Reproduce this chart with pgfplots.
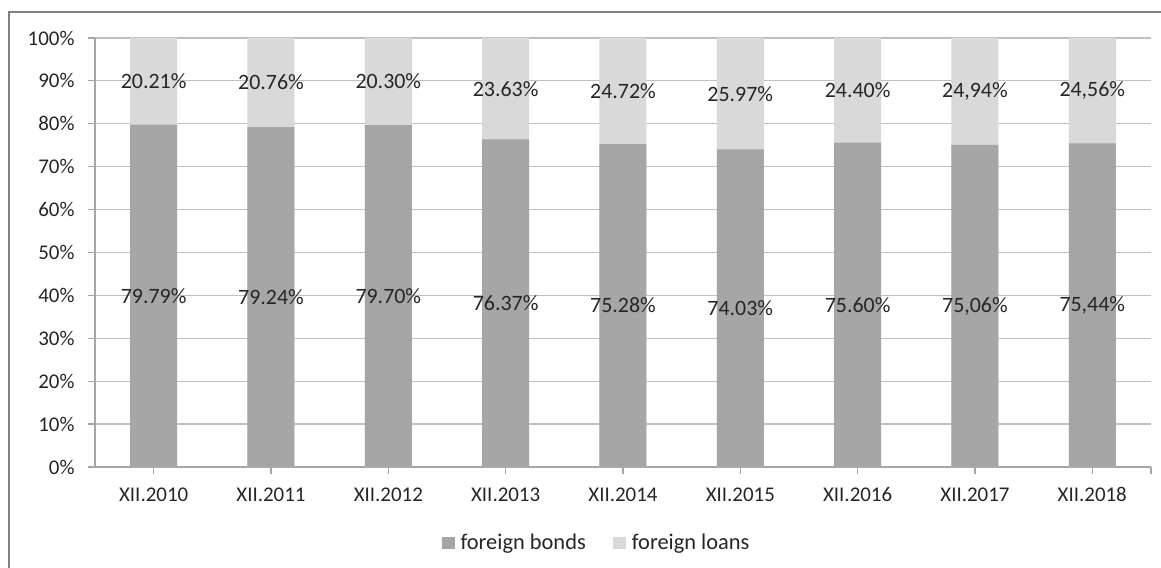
\documentclass[border=0pt]{standalone}
\usepackage{pgfplots}
\pgfplotsset{compat=1.18}
\usepackage{pgfplotstable}
\usepackage{fontspec}
\setmainfont{Carlito}
\definecolor{bonds}{HTML}{A6A6A6}
\definecolor{loans}{HTML}{D9D9D9}
\definecolor{gridc}{HTML}{C0C0C0}
\definecolor{axc}{HTML}{A6A6A6}
\definecolor{framec}{HTML}{808080}
\definecolor{txt}{HTML}{262626}

\pgfplotstableread{
x bonds loans bl ll
0 79.79 20.21 79.79 20.21
1 79.24 20.76 79.24 20.76
2 79.70 20.30 79.70 20.30
3 76.37 23.63 76.37 23.63
4 75.28 24.72 75.28 24.72
5 74.03 25.97 74.03 25.97
6 75.60 24.40 75.60 24.40
7 75.06 24.94 75,06 24,94
8 75.44 24.56 75,44 24,56
}\data

\begin{document}
\begin{tikzpicture}
\useasboundingbox (0,0) rectangle (1161bp,568bp);
\fill[white] (0,0) rectangle (1161bp,568bp);
\draw[framec, line width=1.5bp] (9bp,-10bp) -- (9bp,556bp) -- (1175bp,556bp);
\begin{axis}[
  at={(95bp,101bp)}, anchor=south west,
  scale only axis, width=1056bp, height=429bp,
  xmin=-0.5, xmax=8.5, ymin=0, ymax=100,
  xtick={0,...,8},
  xticklabels={XII.2010,XII.2011,XII.2012,XII.2013,XII.2014,XII.2015,XII.2016,XII.2017,XII.2018},
  extra x ticks={8.5}, extra x tick labels={},
  ytick={0,10,...,100},
  yticklabels={0\%,10\%,20\%,30\%,40\%,50\%,60\%,70\%,80\%,90\%,100\%},
  ymajorgrids, grid style={gridc, line width=1.2bp},
  axis x line*=bottom, axis y line*=left,
  axis line style={axc, line width=1.2bp},
  tick style={axc, line width=1.2bp},
  tick align=outside, major tick length=7bp,
  xticklabel style={font=\fontsize{21}{24}\selectfont, text=txt, yshift=-10bp},
  yticklabel style={font=\fontsize{21}{24}\selectfont, text=txt, xshift=-10bp},
  legend style={at={(0.474,-0.177)}, anchor=center, draw=none, fill=none,
    legend columns=2, font=\fontsize{22.5}{24}\selectfont, text=txt,
    nodes={inner sep=0pt},
    /tikz/every odd column/.append style={column sep=6bp},
    /tikz/every even column/.append style={column sep=27bp}},
  legend image code/.code={\fill[#1] (0bp,-6bp) rectangle (13bp,6bp);},
  reverse legend,
  clip=false,
]
\addplot[ybar, bar width=47bp, bar shift=0pt, fill=loans, draw=none]
  table[x=x, y expr=\thisrow{bonds}+\thisrow{loans}] {\data};
\addlegendentry{foreign loans}
\addplot[ybar, bar width=47bp, bar shift=0pt, fill=bonds, draw=none]
  table[x=x, y=bonds] {\data};
\addlegendentry{foreign bonds}
\addplot[draw=none, mark=none, forget plot, point meta=explicit symbolic,
  nodes near coords={\pgfplotspointmeta\%}, nodes near coords align={center},
  every node near coord/.append style={font=\fontsize{22}{24}\selectfont, text=txt}]
  table[x=x, y expr=\thisrow{bonds}/2, meta=bl] {\data};
\addplot[draw=none, mark=none, forget plot, point meta=explicit symbolic,
  nodes near coords={\pgfplotspointmeta\%}, nodes near coords align={center},
  every node near coord/.append style={font=\fontsize{22}{24}\selectfont, text=txt}]
  table[x=x, y expr=\thisrow{bonds}+\thisrow{loans}/2, meta=ll] {\data};
\end{axis}
\end{tikzpicture}
\end{document}
